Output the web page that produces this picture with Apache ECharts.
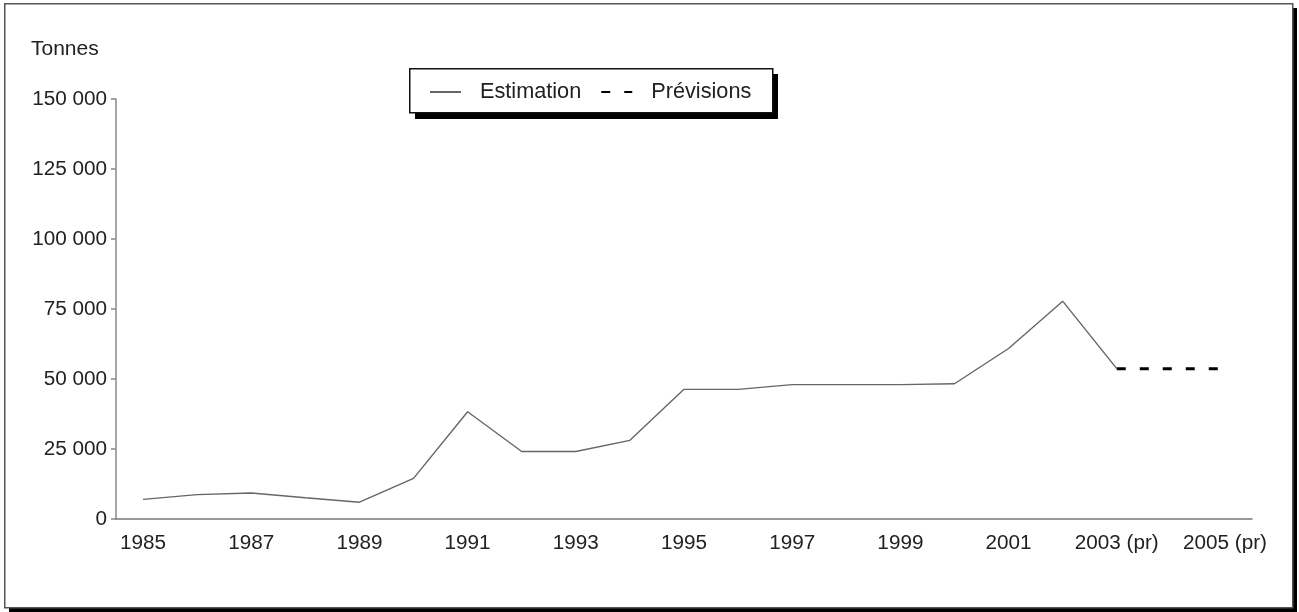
<!DOCTYPE html>
<html>
<head>
<meta charset="utf-8">
<script src="https://cdn.jsdelivr.net/npm/echarts@6/dist/echarts.min.js"></script>
<style>html,body{margin:0;padding:0;background:#fff}#c{width:1299px;height:612px}</style>
</head>
<body>
<div id="c"></div>
<script>
var years = ['1985','1986','1987','1988','1989','1990','1991','1992','1993','1994','1995','1996','1997','1998','1999','2000','2001','2002','2003 (pr)','2004 (pr)','2005 (pr)'];
var estimation = [7000, 8700, 9300, 7600, 6000, 14500, 38300, 24100, 24100, 28100, 46300, 46300, 48000, 48000, 48000, 48300, 60900, 77800, 53700, null, null];
var previsions = [null, null, null, null, null, null, null, null, null, null, null, null, null, null, null, null, null, null, 53700, 53700, 53700];
var yTicks = [0, 25000, 50000, 75000, 100000, 125000, 150000];

var FONT = 'Liberation Sans';
var chart = echarts.init(document.getElementById('c'), null, {renderer: 'canvas'});
chart.setOption({
  animation: false,
  backgroundColor: '#fff',
  graphic: [
    {type: 'rect', left: 9, top: 8, z: -5, shape: {width: 1288, height: 604}, style: {fill: '#000'}},
    {type: 'rect', left: 4, top: 3, z: -4, shape: {width: 1288, height: 604}, style: {fill: '#fff', stroke: '#555', lineWidth: 1.5}},
    {type: 'rect', left: 415, top: 74, z: -3, shape: {width: 363, height: 45}, style: {fill: '#000'}},
    {type: 'rect', left: 409, top: 68, z: -2, shape: {width: 363, height: 44}, style: {fill: '#fff', stroke: '#111', lineWidth: 1.5}}
  ],
  title: {
    text: 'Tonnes', left: 31, top: 39, padding: 0,
    textStyle: {fontFamily: FONT, fontSize: 21, fontWeight: 'normal', color: '#222'}
  },
  legend: {
    left: 429, top: 81, padding: 0,
    itemWidth: 31, itemHeight: 14, itemGap: 19,
    itemStyle: {opacity: 0},
    textStyle: {fontFamily: FONT, fontSize: 21.7, color: '#222', padding: [0, 0, 0, 14]},
    data: ['Estimation', 'Prévisions']
  },
  grid: {left: 116, right: 47, top: 99, bottom: 93, containLabel: false},
  xAxis: {
    type: 'category', data: years, boundaryGap: true,
    axisLine: {lineStyle: {color: '#777', width: 1.5}},
    axisTick: {alignWithLabel: true, interval: 0, length: 6, lineStyle: {color: '#777', width: 1.5}},
    axisLabel: {interval: 1, fontFamily: FONT, fontSize: 20.7, color: '#222', margin: 14}
  },
  yAxis: {
    type: 'value', min: 0, max: 150000, interval: 25000,
    axisLine: {show: true, lineStyle: {color: '#888', width: 1.5}},
    axisTick: {show: true, length: 5, lineStyle: {color: '#888', width: 1.5}},
    splitLine: {show: false},
    axisLabel: {
      fontFamily: FONT, fontSize: 20.7, color: '#222', margin: 9,
      formatter: function (v) { return String(v).replace(/\B(?=(\d{3})+(?!\d))/g, ' '); }
    }
  },
  series: [{
    name: 'Estimation', type: 'line', data: estimation, showSymbol: false, symbol: 'none',
    lineStyle: {color: '#666', width: 1.4}, itemStyle: {color: '#666'}
  }, {
    name: 'Prévisions', type: 'line', data: previsions, showSymbol: false, symbol: 'none',
    lineStyle: {color: '#000', width: 3, type: [9, 14]}, itemStyle: {color: '#000'}
  }]
});
</script>
</body>
</html>
